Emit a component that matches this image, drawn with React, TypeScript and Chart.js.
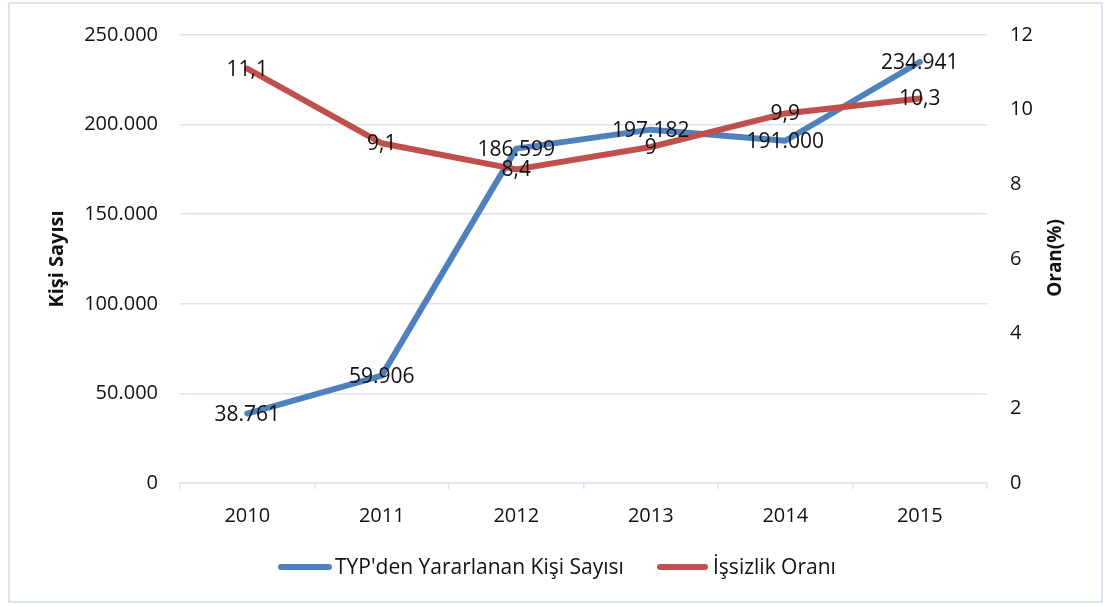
import React, { useEffect, useRef } from "react";
import { Chart, registerables } from "chart.js";

Chart.register(...registerables);

const years = ["2010", "2011", "2012", "2013", "2014", "2015"];
const beneficiaries = [38761, 59906, 186599, 197182, 191000, 234941];
const unemploymentRate = [11.1, 9.1, 8.4, 9, 9.9, 10.3];
const seriesNames = ["TYP'den Yararlanan Kişi Sayısı", "İşsizlik Oranı"];
const leftTitle = "Kişi Sayısı";
const rightTitle = "Oran(%)";
const leftMax = 250000;
const leftStep = 50000;
const rightMax = 12;
const rightStep = 2;

const BLUE = "#4f81bd";
const RED = "#c0504d";
const GRID = "#d9e3f1";
const TEXT = "#111111";
const FONT = "'Open Sans', 'Noto Sans', sans-serif";

const fmtThousands = (v: number) =>
  String(Math.round(v)).replace(/\B(?=(\d{3})+(?!\d))/g, ".");
const fmtDecimal = (v: number) => String(v).replace(".", ",");

const labelsPlugin = {
  id: "pointLabels",
  afterDatasetsDraw(chart: any) {
    const ctx = chart.ctx;
    ctx.save();
    ctx.font = `21px ${FONT}`;
    ctx.fillStyle = TEXT;
    ctx.textAlign = "center";
    ctx.textBaseline = "middle";
    chart.data.datasets.forEach((ds: any, di: number) => {
      const meta = chart.getDatasetMeta(di);
      meta.data.forEach((el: any, i: number) => {
        const v = ds.data[i];
        const txt = di === 0 ? fmtThousands(v) : fmtDecimal(v);
        ctx.fillText(txt, el.x, el.y + 1);
      });
    });
    ctx.restore();
  },
};

const decorPlugin = {
  id: "decor",
  afterDraw(chart: any) {
    const ctx = chart.ctx;
    const area = chart.chartArea;
    const midY = (area.top + area.bottom) / 2;
    ctx.save();
    ctx.fillStyle = TEXT;
    ctx.font = `bold 20px ${FONT}`;
    ctx.textAlign = "center";
    ctx.textBaseline = "middle";
    ctx.save();
    ctx.translate(57, midY);
    ctx.rotate(-Math.PI / 2);
    ctx.fillText(leftTitle, 0, 0);
    ctx.restore();
    ctx.font = `bold 19px ${FONT}`;
    ctx.save();
    ctx.translate(1056, midY - 1);
    ctx.rotate(-Math.PI / 2);
    ctx.fillText(rightTitle, 0, 0);
    ctx.restore();

    const ly = 567;
    const items = [
      { x1: 281, x2: 329, tx: 335, color: BLUE, text: seriesNames[0] },
      { x1: 660, x2: 705, tx: 713, color: RED, text: seriesNames[1] },
    ];
    ctx.font = `21px ${FONT}`;
    ctx.textAlign = "left";
    items.forEach((it) => {
      ctx.strokeStyle = it.color;
      ctx.lineWidth = 6;
      ctx.lineCap = "round";
      ctx.beginPath();
      ctx.moveTo(it.x1, ly);
      ctx.lineTo(it.x2, ly);
      ctx.stroke();
      ctx.fillStyle = TEXT;
      ctx.fillText(it.text, it.tx, ly + 1);
    });
    ctx.restore();
  },
};

export default function App() {
  const canvasRef = useRef<HTMLCanvasElement | null>(null);

  useEffect(() => {
    const canvas = canvasRef.current;
    if (!canvas) return;
    const chart = new Chart(canvas, {
      type: "line",
      data: {
        labels: years,
        datasets: [
          {
            label: seriesNames[0],
            data: beneficiaries,
            yAxisID: "y",
            borderColor: BLUE,
            backgroundColor: BLUE,
            borderWidth: 6,
            borderCapStyle: "round",
            borderJoinStyle: "round",
            pointRadius: 0,
            tension: 0,
            order: 1,
          },
          {
            label: seriesNames[1],
            data: unemploymentRate,
            yAxisID: "y1",
            borderColor: RED,
            backgroundColor: RED,
            borderWidth: 6,
            borderCapStyle: "round",
            borderJoinStyle: "round",
            pointRadius: 0,
            tension: 0,
            order: 0,
          },
        ],
      },
      options: {
        responsive: false,
        animation: false,
        layout: { padding: { top: 32, left: 0, right: 0, bottom: 0 } },
        plugins: {
          legend: { display: false },
          tooltip: { enabled: false },
        },
        scales: {
          x: {
            type: "category",
            offset: true,
            grid: {
              offset: true,
              drawOnChartArea: false,
              drawTicks: true,
              tickLength: 6,
              color: GRID,
              lineWidth: 1.5,
            },
            border: { display: true, color: GRID, width: 1.5 },
            ticks: { font: { family: FONT, size: 20 }, color: TEXT, padding: 15 },
            afterFit: (s: any) => {
              s.height = 124;
            },
          },
          y: {
            position: "left",
            min: 0,
            max: leftMax,
            ticks: {
              stepSize: leftStep,
              padding: 22,
              font: { family: FONT, size: 20 },
              color: TEXT,
              callback: (v: any) => fmtThousands(Number(v)),
            },
            grid: { color: GRID, drawTicks: false, lineWidth: 1.5 },
            border: { display: false },
            afterFit: (s: any) => {
              s.width = 180;
            },
          },
          y1: {
            position: "right",
            min: 0,
            max: rightMax,
            ticks: {
              stepSize: rightStep,
              padding: 23,
              font: { family: FONT, size: 20 },
              color: TEXT,
            },
            grid: { drawOnChartArea: false, drawTicks: false },
            border: { display: false },
            afterFit: (s: any) => {
              s.width = 118;
            },
          },
        },
      },
      plugins: [labelsPlugin, decorPlugin],
    } as any);
    return () => chart.destroy();
  }, []);

  return (
    <div style={{ position: "fixed", left: 0, top: 0, width: 1105, height: 607, background: "#fff" }}>
      <div
        style={{
          position: "absolute",
          left: 8,
          top: 2,
          width: 1095,
          height: 601,
          border: "2px solid #dae3f0",
          boxSizing: "border-box",
        }}
      />
      <canvas
        ref={canvasRef}
        width={1105}
        height={607}
        style={{ position: "absolute", left: 0, top: 0, width: 1105, height: 607 }}
      />
    </div>
  );
}
